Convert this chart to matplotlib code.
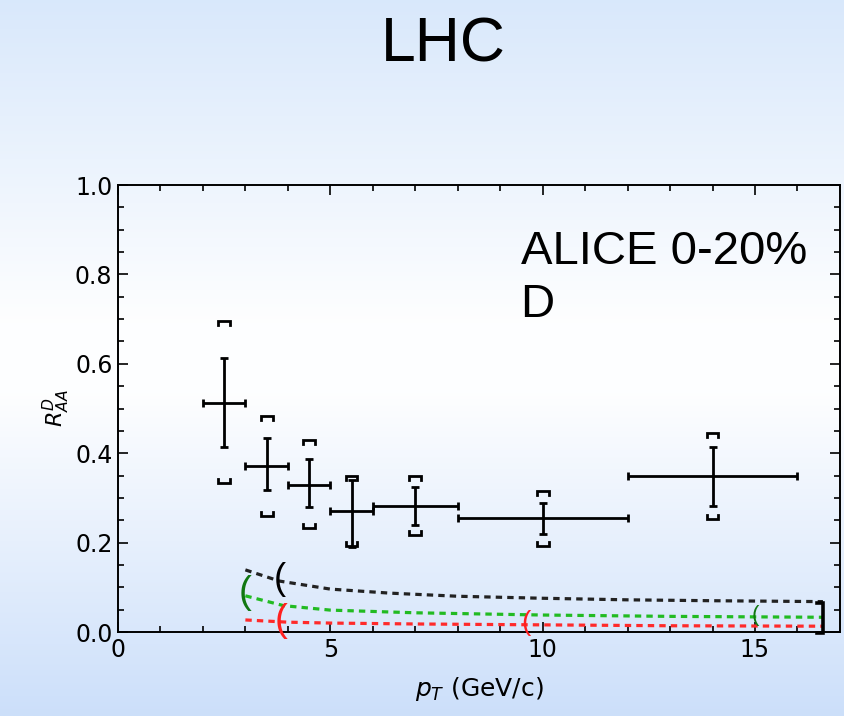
# ALICE D-meson RAA, 0-20%, with model curves

import matplotlib
matplotlib.use("Agg")
import matplotlib.pyplot as plt
import numpy as np

# data points
pt = [2.5, 3.5, 4.5, 5.5, 7.0, 10.0, 14.0]
pt_lo = [2, 3, 4, 5, 6, 8, 12]
pt_hi = [3, 4, 5, 6, 8, 12, 16]
raa = [0.513, 0.372, 0.330, 0.270, 0.282, 0.256, 0.348]
stat_hi = [0.612, 0.435, 0.386, 0.341, 0.324, 0.289, 0.415]
stat_lo = [0.415, 0.318, 0.279, 0.190, 0.240, 0.220, 0.282]
sys_hi = [0.695, 0.483, 0.429, 0.350, 0.348, 0.316, 0.446]
sys_lo = [0.334, 0.260, 0.233, 0.193, 0.217, 0.193, 0.253]

# model curves
black_x = [3.0, 3.8, 5.0, 6.4, 8.0, 10.0, 12.0, 14.0, 16.6]
black_y = [0.139, 0.114, 0.096, 0.087, 0.080, 0.0755, 0.072, 0.070, 0.068]
green_x = [3.0, 3.9, 5.0, 7.0, 10.0, 13.0, 16.6]
green_y = [0.081, 0.059, 0.049, 0.043, 0.038, 0.035, 0.033]
red_x = [3.0, 4.0, 5.0, 7.0, 10.0, 13.0, 16.6]
red_y = [0.027, 0.022, 0.020, 0.018, 0.016, 0.014, 0.013]

# bracket marks on the curves
paren_x = [3.82, 3.0, 3.85, 9.6, 15.0]
paren_y = [0.118, 0.088, 0.024, 0.020, 0.037]
paren_size = [26, 28, 28, 20, 16]
paren_col = ['black', '#117711', '#ff2020', '#ff2020', '#117711']
end_x = 16.6
end_y = [-0.002, 0.065]

fig = plt.figure(figsize=(8.45, 7.16), dpi=100)

# background gradient
bg = fig.add_axes([0, 0, 1, 1], zorder=-10)
stops = np.array([0.0, 0.45, 0.55, 1.0])
cols = np.array([[0.85, 0.91, 0.985], [0.995, 0.997, 1.0],
                 [0.995, 0.997, 1.0], [0.80, 0.875, 0.98]])
t = np.linspace(0, 1, 400)
grad = np.stack([np.interp(t, stops, cols[:, k]) for k in range(3)], axis=1)
bg.imshow(grad[:, None, :], aspect='auto', extent=[0, 1, 0, 1])
bg.set_axis_off()

ax = fig.add_axes([0.1396, 0.1173, 0.8544, 0.6243])
ax.set_facecolor('none')

xerr = [np.array(pt) - np.array(pt_lo), np.array(pt_hi) - np.array(pt)]
yerr = [np.array(raa) - np.array(stat_lo), np.array(stat_hi) - np.array(raa)]
ax.errorbar(pt, raa, xerr=xerr, yerr=yerr, fmt='none', ecolor='black',
            elinewidth=2, capsize=3, capthick=2, zorder=5)

w = 0.14
h = 0.009
for x, hi, lo in zip(pt, sys_hi, sys_lo):
    ax.plot([x - w, x - w, x + w, x + w], [hi - h, hi, hi, hi - h],
            color='black', lw=2, solid_joinstyle='miter', zorder=5)
    ax.plot([x - w, x - w, x + w, x + w], [lo + h, lo, lo, lo + h],
            color='black', lw=2, solid_joinstyle='miter', zorder=5)

ax.plot(black_x, black_y, color='#222222', lw=2.3, dashes=(2, 1.6))
ax.plot(green_x, green_y, color='#22bb22', lw=2.3, dashes=(2, 1.6))
ax.plot(red_x, red_y, color='#ff2a2a', lw=2.3, dashes=(2, 1.6))

for x, y, s, c in zip(paren_x, paren_y, paren_size, paren_col):
    ax.text(x, y, '(', fontsize=s, color=c, ha='center', va='center',
            family='Liberation Sans')
ax.plot([end_x - 0.15, end_x, end_x, end_x - 0.15],
        [end_y[1], end_y[1], end_y[0], end_y[0]],
        color='black', lw=2.6, solid_joinstyle='miter', clip_on=False)

ax.set_xlim(0, 17)
ax.set_ylim(0, 1.0)
ax.set_xticks([0, 5, 10, 15])
ax.set_xticks(np.arange(0, 17, 1), minor=True)
ax.set_yticks(np.arange(0, 1.01, 0.2))
ax.set_yticks(np.arange(0, 1.01, 0.05), minor=True)
ax.yaxis.set_major_formatter(matplotlib.ticker.FormatStrFormatter('%.1f'))
ax.tick_params(which='both', direction='in', top=True, right=True,
               labelsize=17, width=1.2, pad=4)
ax.tick_params(which='major', length=7)
ax.tick_params(which='minor', length=4)
for sp in ax.spines.values():
    sp.set_linewidth(1.4)

ax.set_xlabel('$p_T$ (GeV/c)', fontsize=18, labelpad=10)
ax.set_ylabel('$R_{AA}^{D}$', fontsize=16, labelpad=2)

ax.text(9.48, 0.823, 'ALICE 0-20%', fontsize=34, family='Liberation Sans',
        ha='left', va='baseline')
ax.text(9.48, 0.704, 'D', fontsize=34, family='Liberation Sans',
        ha='left', va='baseline')

fig.text(443 / 845, 1 - 62 / 716, 'LHC', fontsize=45, family='Liberation Sans',
         ha='center', va='baseline')

fig.savefig('out.png', dpi=100)
